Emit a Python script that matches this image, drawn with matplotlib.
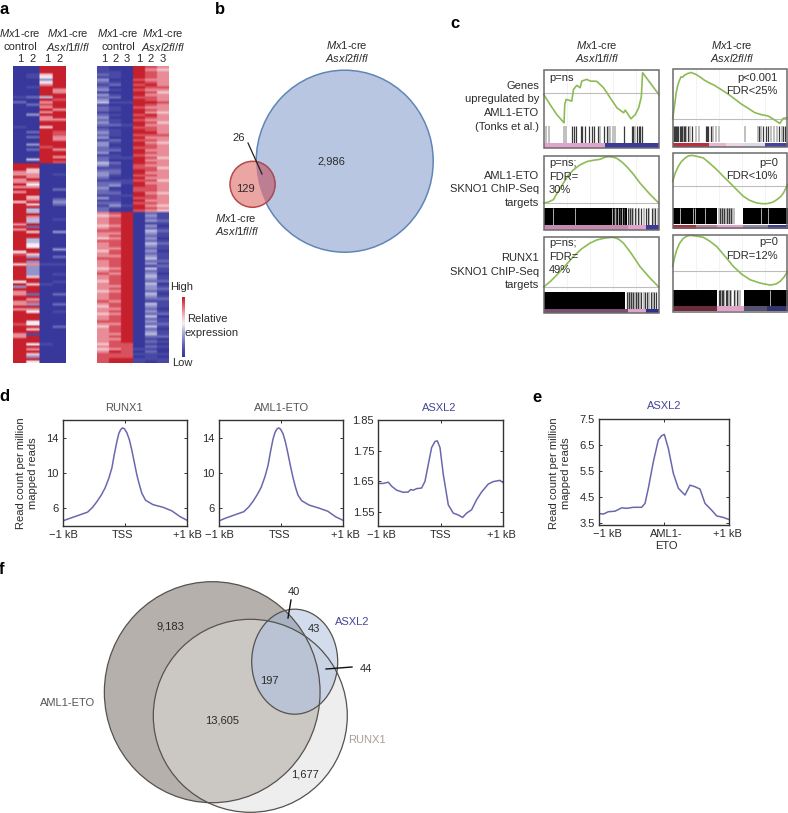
import matplotlib
matplotlib.use("Agg")
import matplotlib.pyplot as plt
import numpy as np
from matplotlib.colors import LinearSegmentedColormap
from matplotlib.patches import Ellipse, Polygon, Rectangle
from matplotlib.transforms import ScaledTranslation

plt.rcParams['font.family'] = ['Liberation Sans', 'DejaVu Sans']
plt.rcParams['mathtext.fontset'] = 'custom'
plt.rcParams['mathtext.rm'] = 'Liberation Sans'
plt.rcParams['mathtext.it'] = 'Liberation Sans:italic'
plt.rcParams['axes.unicode_minus'] = True

# ------------------------------------------------- data: panel a heatmaps
# each column is a string of expression levels, 0 = low ... 9 = high
asxl1_ctrl1 = ("0000000000 0010200000 0000100000 000000000 "
               "9997797797 9799969999 9999797999 9999958999 6999999593 9779977979 9999899977 9999999999")
asxl1_ctrl2 = ("0001100010 0020020003 0000002020 030200040 "
               "9966779757 9996796944 9744929699 4455996393 7333369969 9929783975 9995596919 9959796395")
asxl1_ko1 = ("9996535799 9949787979 7799699999 998999999 "
             "0000000000 0000000000 0000000000 0000000000 1000000010 0000000000 0000000000 0010000000")
asxl1_ko2 = ("9999999997 7998999799 9799998877 999799798 "
             "0000100000 2000232000 0010000300 0000300200 1000100100 0020002001 0000020000 0000000000")

asxl2_ctrl1 = ("1112132123 1323412212 3232123231 3322312243 1233212232 21312122 "
               "7677767877 6877767787 7767877677 7677787677 6778767777 7767678888")
asxl2_ctrl2 = ("0011101201 0120101101 0112011102 1012011021 1221012301 21112310 "
               "8788878878 7888788788 8878788887 8788878878 7888788878 7888798899")
asxl2_ctrl3 = ("0000000000 0000100000 0001000000 0000001000 0000011000 01000100 "
               "9999999999 9999999999 9999999999 9999999999 9999999999 9988888899")
asxl2_ko1 = ("9999989898 9989998998 9899899898 9989989998 8998989988 99898998 "
             "0000000000 0000000000 0000000000 0000000000 0000000000 0000101011")
asxl2_ko2 = ("8788878987 8788987879 8787889878 7887878787 8878787888 78878787 "
             "2323132432 3243232342 3142343243 3243214323 2423242342 1212121110")
asxl2_ko3 = ("7677777787 6777877767 7767777877 6777776777 6777767777 67777676 "
             "1112101211 0121101112 1211011201 2101211101 2011210112 0101001011")

# ------------------------------------------------- data: panel c enrichment plots
r1l_rank = [0, 5.5, 11.3, 17.7, 18.3, 19.5, 24.4, 25.9, 28.8, 31.7, 33.1, 37.5, 40.4, 46.2, 52, 57.8, 63.7,
            69.5, 70.9, 75.9, 79.7, 82.6, 84.9, 86, 100]
r1l_es = [-.03, -.33, -.63, -.88, -.33, -.18, -.23, .12, .24, .17, .37, .42, .37, .36, .17, -.13, -.43,
          -.58, -.5, -.76, -.63, -.43, -.10, .62, -.03]
r1r_rank = [0, 1, 2, 3, 4.4, 5.8, 7.3, 8.8, 10.2, 11.6, 13.1, 14.5, 16, 18, 20.4, 24, 27.7, 32, 36.4, 42, 48, 54,
            59.8, 66, 71.4, 77, 83, 88, 93.3, 94.5, 96.2, 100]
r1r_es = [0, .25, .48, .75, .98, 1.12, 1.23, 1.22, 1.28, 1.30, 1.33, 1.34, 1.36, 1.33, 1.30, 1.22, 1.13, 1.05, .98,
          .86, .73, .58, .43, .30, .18, .12, .08, -.02, -.14, -.08, .01, .03]
r2l_rank = [0, 4, 8.4, 12, 17.1, 21, 25.8, 31, 37.4, 43, 49, 53, 56.2, 60, 63.5, 68, 72.2, 78, 83.8, 92, 100]
r2l_es = [0, .03, .10, .32, .60, .82, 1.0, 1.14, 1.25, 1.29, 1.32, 1.38, 1.40, 1.39, 1.35, 1.24, 1.10, .87, .60, .28, 0]
r2r_rank = [0, 2, 4.9, 7.5, 10.8, 13.5, 16.6, 21, 26.7, 32, 38.4, 44, 50, 56, 61.6, 67, 73.3, 78, 82, 87, 90.7, 94,
            96.5, 100]
r2r_es = [.13, .36, .58, .72, .83, .89, .91, .88, .83, .68, .48, .28, .08, -.13, -.32, -.44, -.52, -.54, -.54, -.50,
          -.42, -.33, -.22, .03]
r3l_rank = [0, 6, 11.3, 18, 25.8, 33, 40.3, 46, 51.9, 56, 60.6, 65, 69.3, 76, 83.8, 92, 100]
r3l_es = [0, .17, .35, .60, .90, 1.13, 1.30, 1.39, 1.44, 1.46, 1.47, 1.42, 1.30, 1.0, .60, .28, 0]
r3r_rank = [0, 1.5, 3.5, 6, 9.3, 12, 15.1, 20, 26.7, 32, 38.4, 45, 52.9, 60, 67.4, 76, 84.8, 90, 93.6, 97, 100]
r3r_es = [.15, .40, .65, .85, 1.0, 1.06, 1.09, 1.07, 1.03, .92, .75, .48, .15, -.08, -.25, -.35, -.41, -.38, -.30,
          -.17, 0]

r1l_hits = [25, 26.7, 28.5, 32, 33.7, 35.8, 39.5, 42, 44, 46.8, 52, 55, 70, 76.7, 78, 81, 83, 84, 85.5]
r1l_pale = [1.7, 5, 17.7, 19, 49, 56.4, 58, 60, 62, 79.7]
r1r_hits = [1, 2, 3, 4, 5, 6, 7, 8, 10, 11, 13, 17, 29, 30, 31, 33, 75, 79, 81, 83, 93, 96, 98, 100]
r1r_pale = [0, 9, 12, 15, 20, 23, 35, 38, 40, 63, 74, 77, 86, 88, 91, 95]
r2l_hits = [61, 63, 66, 70, 73, 75, 77, 79, 82, 85, 89, 91, 94, 97]
r2l_pale = [74, 76, 78, 80, 83, 87, 92, 96, 99]
r2r_hits = [41, 43, 45, 47, 49, 51]
r2r_pale = [40, 42, 44, 46, 48, 50, 52, 53]
r3l_hits = [72, 74, 76, 78, 80, 82, 85, 88, 90, 93, 96, 98]
r3l_pale = [73, 75, 77, 79, 81, 84, 87, 92, 95]
r3r_hits = [40, 41, 43, 44, 46, 47, 50, 53, 56]
r3r_pale = [42, 45, 48, 49, 51, 54, 57, 59]
# solid (start, width) runs of hits and white gaps inside them
r2l_runs = [(0, 72)];   r2l_gaps = [8, 27, 59, 62, 65, 68]
r2r_runs = [(0, 39), (61, 39)];  r2r_gaps = [6, 18, 19, 28, 77, 83]
r3l_runs = [(0, 71)];   r3l_gaps = []
r3r_runs = [(0, 39), (62, 38)];  r3r_gaps = [85]

# strip segments: (start, width, colour)
r1l_strip = [(0, 53, '#dfa3cc'), (53, 47, '#3b3a98')]
r1r_strip = [(0, 32, '#b82f3e'), (32, 14, '#e5b6cd'), (46, 14, '#eed6e3'), (60, 20, '#dcd9ea'), (80, 20, '#4444a0')]
r2l_strip = [(0, 73, '#c58ab0'), (73, 16, '#dfa3cc'), (89, 11, '#3b3a98')]
r2r_strip = [(0, 20, '#a8303c'), (20, 19, '#b87f96'), (39, 22, '#e3a4cc'), (61, 22, '#8f8bac'), (83, 17, '#3f3f96')]
r3l_strip = [(0, 73, '#7b4f70'), (73, 16, '#dfa3cc'), (89, 11, '#2f2f90')]
r3r_strip = [(0, 39, '#6d2a3a'), (39, 23, '#e3a4cc'), (62, 20, '#57506e'), (82, 18, '#33336e')]

# ------------------------------------------------- data: panel d, e profiles
peak_x = [-1, -.88, -.78, -.60, -.52, -.45, -.38, -.32, -.26, -.21, -.17, -.13, -.10, -.07, -.04, -.01, .03, .07, .11,
          .15, .19, .23, .27, .33, .45, .61, .75, .88, 1]
runx1_y = [4.55, 4.85, 5.1, 5.55, 6.1, 6.75, 7.5, 8.3, 9.4, 10.6, 12.2, 13.6, 14.5, 14.95, 15.15, 15.05, 14.6, 13.8,
           12.6, 11.2, 9.8, 8.7, 7.7, 6.9, 6.4, 6.1, 5.7, 5.05, 4.6]
aml1_y = [4.55, 4.9, 5.15, 5.6, 6.15, 6.8, 7.6, 8.4, 9.6, 10.9, 12.5, 13.9, 14.6, 15.0, 15.15, 15.0, 14.5, 13.5,
          12.2, 10.8, 9.5, 8.4, 7.5, 6.85, 6.35, 6.0, 5.65, 5.0, 4.6]
asxl2_x = [-1, -.92, -.84, -.787, -.707, -.6, -.52, -.483, -.44, -.387, -.307, -.253, -.2, -.147, -.093, -.056, -.013,
           .04, .12, .2, .28, .349, .413, .493, .573, .653, .76, .84, .947, 1]
asxl2_y = [1.643, 1.643, 1.647, 1.634, 1.621, 1.614, 1.615, 1.623, 1.621, 1.626, 1.628, 1.65, 1.705, 1.76, 1.78, 1.782,
           1.76, 1.672, 1.573, 1.546, 1.54, 1.532, 1.546, 1.557, 1.59, 1.615, 1.641, 1.649, 1.653, 1.645]
eto_x = [-1, -.933, -.856, -.754, -.651, -.574, -.472, -.344, -.292, -.241, -.164, -.087, -.036, .005, .067, .144,
         .221, .323, .4, .477, .554, .631, .733, .81, .913, 1]
eto_y = [3.88, 3.86, 3.95, 3.97, 4.10, 4.08, 4.12, 4.12, 4.27, 4.85, 5.87, 6.71, 6.87, 6.92, 6.38, 5.42,
         4.85, 4.59, 4.97, 4.91, 4.82, 4.27, 4.01, 3.79, 3.73, 3.65]
d_ticks = [6, 10, 14]
asxl2_ticks = [1.55, 1.65, 1.75, 1.85]
e_ticks = [3.5, 4.5, 5.5, 6.5, 7.5]

# ------------------------------------------------- figure helpers
W, H = 788, 813
fig = plt.figure(figsize=(W / 100, H / 100), dpi=100, facecolor='white')
FS = 8.0
TXT = '#2b2b2b'
BLUE_T = '#45459a'


def ax_px(x0, y0, x1, y1, **kw):
    return fig.add_axes([x0 / W, 1 - y1 / H, (x1 - x0) / W, (y1 - y0) / H], **kw)


ov = ax_px(0, 0, W, H, zorder=10)
ov.set_xlim(0, W)
ov.set_ylim(H, 0)
ov.axis('off')
ov.patch.set_alpha(0)


def T(x, y, s, ha='center', va='center', **kw):
    kw.setdefault('fontsize', FS)
    kw.setdefault('color', TXT)
    return ov.text(x, y, s, ha=ha, va=va, **kw)


MX = r'$\mathit{Mx1}$-cre'
for s, x, y in [('a', 4, 9), ('b', 220, 9), ('c', 455, 23), ('d', 4, 396), ('e', 537, 397), ('f', 2, 569)]:
    T(x, y, s, fontsize=12, fontweight='bold', color='black')

# ------------------------------------------------- panel a
heat_cmap = LinearSegmentedColormap.from_list('heat', ['#38389c', '#4a4aa6', '#6c6cb8', '#9393cc', '#bcbce0',
                                                       '#f3eff4', '#f3c6cb', '#e98f9a', '#d9525f', '#c7202d'])


def levels(cols):
    # columns stay crisp while rows get the soft edge of the reference
    return np.repeat(np.array([[int(c) for c in col if c != ' '] for col in cols]).T, 8, axis=1)


ax = ax_px(13.3, 66, 65.7, 363)
ax.imshow(levels([asxl1_ctrl1, asxl1_ctrl2, asxl1_ko1, asxl1_ko2]), cmap=heat_cmap, vmin=0, vmax=9, aspect='auto',
          interpolation='bilinear')
ax.axis('off')
ax = ax_px(97.3, 66, 168.3, 363)
ax.imshow(levels([asxl2_ctrl1, asxl2_ctrl2, asxl2_ctrl3, asxl2_ko1, asxl2_ko2, asxl2_ko3]), cmap=heat_cmap, vmin=0,
          vmax=9, aspect='auto', interpolation='bilinear')
ax.axis('off')
ax = ax_px(182, 297, 184.5, 357)
ax.imshow(np.linspace(9, 0, 64)[:, None], cmap=heat_cmap, vmin=0, vmax=9, aspect='auto')
ax.axis('off')

for x, l1, l2 in [(20, MX, 'control'), (68, MX, r'$\mathit{Asxl1fl/fl}$'), (118, MX, 'control'),
                  (163, MX, r'$\mathit{Asxl2fl/fl}$')]:
    T(x, 33, l1)
    T(x, 47, l2)
for x, s in zip([20, 33, 47, 60, 104, 116, 127, 139, 151, 163], '1212123123'):
    T(x, 59.5, s)
T(182, 287, 'High')
T(182, 363, 'Low')
T(207, 319, 'Relative')
T(212, 333, 'expression')

# ------------------------------------------------- panel b
ov.add_patch(Ellipse((344.7, 161.2), 177, 182, fc='#b9c6e2', ec='#5f86b8', lw=1.1, zorder=1))
ov.add_patch(Ellipse((252.5, 184.3), 45, 46, fc='#eba5a3', ec='#b5494b', lw=1.1, zorder=2))
lens = Ellipse((252.5, 184.3), 45, 46, fc='#bd7d92', ec='#a0505e', lw=1.0, zorder=3)
ov.add_patch(lens)
lens.set_clip_path(Ellipse((344.7, 161.2), 177, 182, transform=ov.transData))
ov.plot([248, 262], [143, 174], color='#222222', lw=0.9, zorder=4)
T(347, 45, MX)
T(347, 58, r'$\mathit{Asxl2fl/fl}$')
T(239, 138, '26')
T(331, 162, '2,986')
T(245, 189, '129')
T(236, 218, MX)
T(237, 231, r'$\mathit{Asxl1fl/fl}$')

# ------------------------------------------------- panel c
GREEN = '#8dbb55'


def gsea(x0, x1, ys, ylim, rank, es, hits, pale, strip, runs=(), gaps=()):
    y0, y1, b0, b1, s0, s1 = ys
    a = ax_px(x0, y0, x1, y1)
    a.set_xlim(0, 100)
    a.set_ylim(*ylim)
    a.axis('off')
    for g in [20, 40, 60, 80]:
        a.axvline(g, color='#f1f1f1', lw=0.6, zorder=0)
    a.axhline(0, color='#bdbdbd', lw=0.8, zorder=1)
    a.plot(rank, es, color=GREEN, lw=1.2, zorder=2, clip_on=False)
    b = ax_px(x0, b0, x1, b1)
    b.set_xlim(0, 100)
    b.set_ylim(0, 1)
    b.axis('off')
    b.vlines(pale, 0, 1, color='#b5b5b5', lw=1.2)
    b.vlines(hits, 0, 1, color='#3a3a3a', lw=0.9)
    if len(runs):
        b.broken_barh(list(runs), (0, 1), color='black', lw=0)
    if len(gaps):
        b.vlines(gaps, 0, 1, color='#c8c8c8', lw=0.6)
    c = ax_px(x0, s0, x1, s1)
    c.set_xlim(0, 100)
    c.set_ylim(0, 1)
    c.axis('off')
    for st, wd, col in strip:
        c.add_patch(Rectangle((st, 0), wd, 1, fc=col, ec='none'))
    ov.add_patch(Rectangle((x0, y0), x1 - x0, s1 - y0, fc='none', ec='#6b6b6b', lw=1.1, zorder=1))


LX0, LX1, RX0, RX1 = 543.7, 658.7, 672.7, 787.5
gsea(LX0, LX1, (70, 125.5, 126, 143, 143.5, 148), (-.96, .70), r1l_rank, r1l_es, r1l_hits, r1l_pale, r1l_strip)
gsea(RX0, RX1, (69, 125.5, 126, 142.5, 143, 147), (-.20, 1.46), r1r_rank, r1r_es, r1r_hits, r1r_pale, r1r_strip)
gsea(LX0, LX1, (156, 207, 208, 225, 225.5, 230), (-.12, 1.42), r2l_rank, r2l_es, r2l_hits, r2l_pale, r2l_strip,
     r2l_runs, r2l_gaps)
gsea(RX0, RX1, (153, 207, 207.5, 224, 224.5, 228.5), (-.64, .98), r2r_rank, r2r_es, r2r_hits, r2r_pale, r2r_strip,
     r2r_runs, r2r_gaps)
gsea(LX0, LX1, (237, 291, 291.5, 308.5, 309, 313), (-.12, 1.48), r3l_rank, r3l_es, r3l_hits, r3l_pale, r3l_strip,
     r3l_runs, r3l_gaps)
gsea(RX0, RX1, (235, 289, 289.5, 306, 306.5, 311.5), (-.53, 1.10), r3r_rank, r3r_es, r3r_hits, r3r_pale, r3r_strip,
     r3r_runs, r3r_gaps)

T(597, 45, MX)
T(597, 58, r'$\mathit{Asxl1fl/fl}$')
T(732, 45, MX)
T(732, 58, r'$\mathit{Asxl2fl/fl}$')
for y, s in [(86, 'Genes'), (99, 'upregulated by'), (113, 'AML1-ETO'), (127, '(Tonks et al.)'),
             (176, 'AML1-ETO'), (189, 'SKNO1 ChIP-Seq'), (203, 'targets'),
             (258, 'RUNX1'), (272, 'SKNO1 ChIP-Seq'), (285, 'targets')]:
    T(539, y, s, ha='right')
for y, s in [(78, 'p=ns'), (163, 'p=ns;'), (177, 'FDR='), (190, '30%'), (243, 'p=ns;'), (257, 'FDR='), (270, '49%')]:
    T(549, y, s, ha='left')
for y, s in [(78, 'p<0.001'), (91, 'FDR<25%'), (163, 'p=0'), (176, 'FDR<10%'), (242, 'p=0'), (256, 'FDR=12%')]:
    T(778, y, s, ha='right')

# ------------------------------------------------- panels d, e
LINE = '#6a68ad'


def profile(box, x, y, ylim, yticks, fmt, xlabels, offs):
    a = ax_px(*box)
    a.plot(x, y, color=LINE, lw=1.1)
    a.set_xlim(-1, 1)
    a.set_ylim(*ylim)
    a.set_yticks(yticks)
    a.set_yticklabels([fmt % v for v in yticks], fontsize=FS, color=TXT)
    a.set_xticks([-1, 0, 1])
    a.set_xticklabels(xlabels, fontsize=FS, color=TXT, linespacing=1.25)
    a.tick_params(axis='both', direction='in', length=2.5, width=0.7, top=True, right=True, pad=3, color='#333333')
    for lab, o in zip(a.get_xticklabels(), offs):
        lab.set_transform(lab.get_transform() + ScaledTranslation(o / 100, 0, fig.dpi_scale_trans))
    for sp in a.spines.values():
        sp.set_linewidth(1.0)
        sp.set_color('#333333')
    return a


dx = ['\u22121 kB', 'TSS', '+1 kB']
profile((62.7, 420, 187.3, 525.7), peak_x, runx1_y, (4, 16.05), d_ticks, '%d', dx, (1, -2, 0))
profile((219, 420, 343.3, 525.7), peak_x, aml1_y, (4, 16.05), d_ticks, '%d', dx, (0, -2, 2))
profile((378.3, 420, 503.3, 525.7), asxl2_x, asxl2_y, (1.505, 1.85), asxl2_ticks, '%.2f', dx, (3, 0, -2))
profile((599, 419.3, 729, 525), eto_x, eto_y, (3.44, 7.5), e_ticks, '%.1f', ['\u22121 kB', 'AML1-\nETO', '+1 kB'],
        (8, 2, -2))
T(124, 408, 'RUNX1', color='#555555')
T(282, 408, 'AML1-ETO', color='#555555')
T(439, 408, 'ASXL2', color=BLUE_T)
T(664, 406, 'ASXL2', color=BLUE_T)
T(27, 473, 'Read count per million\nmapped reads', rotation=90, multialignment='center', linespacing=1.25)
T(560, 473, 'Read count per million\nmapped reads', rotation=90, multialignment='center', linespacing=1.25)

# ------------------------------------------------- panel f
AML = ((212.2, 692.2), 215.7, 221)
RUN = ((250.3, 715.8), 194, 193)
ASX = ((294.7, 661.7), 86, 105)
EDGE = '#55524f'


def overlap(shapes, inside, n=720):
    # boundary of the shared part of convex ellipses, walked round a point inside all of them
    th = np.linspace(0, 2 * np.pi, n, endpoint=False)
    r = np.full(n, np.inf)
    for (cx, cy), w, h in shapes:
        dx_, dy_ = inside[0] - cx, inside[1] - cy
        a = (np.cos(th) / (w / 2)) ** 2 + (np.sin(th) / (h / 2)) ** 2
        b = 2 * (dx_ * np.cos(th) / (w / 2) ** 2 + dy_ * np.sin(th) / (h / 2) ** 2)
        c = (dx_ / (w / 2)) ** 2 + (dy_ / (h / 2)) ** 2 - 1
        r = np.minimum(r, (-b + np.sqrt(b * b - 4 * a * c)) / (2 * a))
    return np.c_[inside[0] + r * np.cos(th), inside[1] + r * np.sin(th)]


ov.add_patch(Ellipse(*AML, fc='#b5b0ab', ec='none', zorder=1))
ov.add_patch(Ellipse(*RUN, fc='#eeeeee', ec='none', zorder=1.1))
ov.add_patch(Polygon(overlap([AML, RUN], (220, 710)), fc='#cbc8c4', ec='none', zorder=1.2))
ov.add_patch(Ellipse(*ASX, fc='#d3dcec', ec='none', zorder=1.3))
ov.add_patch(Polygon(overlap([RUN, ASX], (290, 670)), fc='#c9d3e4', ec='none', zorder=1.4))
ov.add_patch(Polygon(overlap([AML, ASX], (290, 670)), fc='#a9b2c1', ec='none', zorder=1.5))
ov.add_patch(Polygon(overlap([AML, RUN, ASX], (290, 670)), fc='#b9c3d4', ec='none', zorder=1.6))
for el in (AML, RUN, ASX):
    ov.add_patch(Ellipse(*el, fc='none', ec=EDGE, lw=0.9, zorder=2))
ov.plot([291, 288], [600, 618], color='#111111', lw=1.0, zorder=3)
ov.plot([326, 352], [669, 667], color='#111111', lw=1.0, zorder=3)
T(294, 592, '40')
T(314, 629, '43')
T(352, 622, 'ASXL2', color=BLUE_T)
T(366, 669, '44')
T(269, 681, '197')
T(170, 626, '9,183')
T(68, 703, 'AML1-ETO', color='#555555')
T(222, 720, '13,605')
T(367, 740, 'RUNX1', color='#a89f94')
T(305, 774, '1,677')

fig.savefig('out.png', dpi=100)
